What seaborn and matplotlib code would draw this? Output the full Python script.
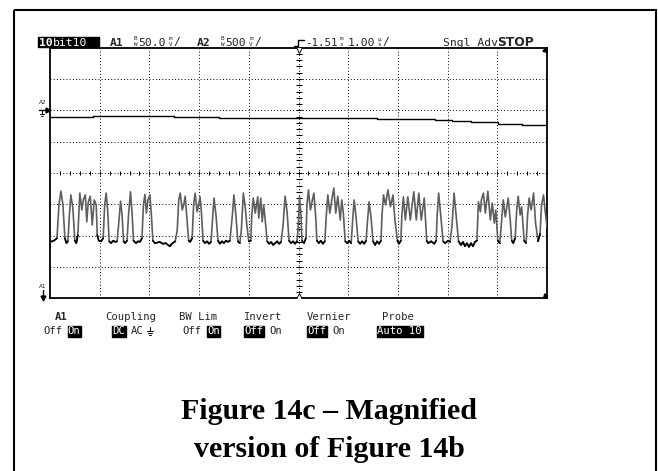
import numpy as np
import pandas as pd
import matplotlib
matplotlib.use("Agg")
import matplotlib.pyplot as plt
import seaborn as sns
from matplotlib.patches import Rectangle

# ---------------- data ----------------
# Channel A1 (50 mV/div), time in microseconds from left edge of the screen (1.00 us/div)
a1_time_us = [
    0.00, 0.08, 0.14, 0.18, 0.22, 0.26, 0.30, 0.33, 0.36, 0.39, 0.42, 0.46, 0.50, 0.53, 0.56,
    0.60, 0.64, 0.67, 0.71, 0.74, 0.77, 0.81, 0.85, 0.89, 0.93, 0.95, 0.98, 1.03, 1.07, 1.10,
    1.13, 1.16, 1.19, 1.23, 1.27, 1.31, 1.35, 1.38, 1.42, 1.45, 1.48, 1.51, 1.55, 1.58, 1.62,
    1.65, 1.68, 1.73, 1.77, 1.81, 1.85, 1.88, 1.91, 1.94, 1.97, 2.01, 2.04, 2.07, 2.11, 2.21,
    2.27, 2.33, 2.41, 2.45, 2.52, 2.56, 2.59, 2.62, 2.66, 2.69, 2.72, 2.76, 2.79, 2.82, 2.86,
    2.89, 2.92, 2.96, 2.99, 3.02, 3.05, 3.08, 3.12, 3.16, 3.20, 3.24, 3.27, 3.30, 3.34, 3.38,
    3.42, 3.46, 3.50, 3.54, 3.58, 3.62, 3.67, 3.70, 3.74, 3.78, 3.82, 3.85, 3.89, 3.93, 3.96,
    4.00, 4.04, 4.06, 4.09, 4.13, 4.18, 4.20, 4.24, 4.27, 4.30, 4.33, 4.37, 4.41, 4.45, 4.49,
    4.53, 4.57, 4.61, 4.65, 4.69, 4.73, 4.77, 4.81, 4.85, 4.89, 4.93, 4.97, 4.99, 5.02, 5.05,
    5.07, 5.11, 5.15, 5.17, 5.20, 5.24, 5.28, 5.31, 5.35, 5.37, 5.41, 5.45, 5.49, 5.53, 5.56,
    5.59, 5.63, 5.67, 5.71, 5.75, 5.79, 5.84, 5.87, 5.90, 5.94, 5.98, 6.02, 6.06, 6.09, 6.12,
    6.16, 6.20, 6.24, 6.28, 6.32, 6.36, 6.39, 6.42, 6.46, 6.50, 6.54, 6.58, 6.62, 6.66, 6.68,
    6.71, 6.75, 6.80, 6.85, 6.90, 6.94, 6.99, 7.02, 7.06, 7.08, 7.11, 7.15, 7.20, 7.25, 7.32,
    7.37, 7.42, 7.47, 7.53, 7.58, 7.61, 7.67, 7.73, 7.77, 7.79, 7.82, 7.86, 7.91, 7.95, 8.01,
    8.05, 8.09, 8.13, 8.17, 8.22, 8.27, 8.31, 8.35, 8.39, 8.43, 8.47, 8.51, 8.55, 8.59, 8.62,
    8.66, 8.68, 8.72, 8.76, 8.81, 8.86, 8.90, 8.94, 8.97, 9.01, 9.05, 9.08, 9.12, 9.16, 9.22,
    9.26, 9.29, 9.32, 9.36, 9.39, 9.42, 9.46, 9.49, 9.54, 9.58, 9.61, 9.64, 9.68, 9.73, 9.77,
    9.82, 9.86, 9.89, 9.93, 9.96, 10.00,
]
a1_mv = [
    -110, -108, -104, -51, -29, -51, -104, -112, -109, -67, -35, -56, -108, -112, -99,
    -32, -59, -43, -35, -78, -46, -37, -83, -43, -51, -99, -108, -109, -104, -51,
    -32, -59, -109, -112, -108, -110, -109, -83, -45, -67, -109, -112, -108, -67, -30,
    -62, -108, -112, -109, -110, -104, -51, -34, -64, -43, -35, -67, -108, -112, -110,
    -113, -112, -117, -113, -109, -91, -43, -32, -59, -51, -37, -78, -108, -110, -104,
    -51, -32, -62, -51, -38, -67, -108, -112, -109, -113, -110, -75, -40, -67, -108,
    -113, -109, -112, -108, -110, -108, -67, -35, -67, -109, -112, -91, -32, -56, -83,
    -109, -108, -67, -40, -64, -38, -72, -40, -78, -51, -75, -109, -113, -110, -115,
    -112, -109, -113, -110, -83, -37, -62, -108, -112, -109, -113, -109, -91, -38, -67,
    -108, -112, -104, -51, -27, -59, -43, -32, -75, -108, -112, -108, -113, -109, -67,
    -35, -64, -43, -24, -64, -37, -75, -43, -62, -109, -112, -108, -112, -75, -43,
    -72, -109, -113, -109, -113, -108, -75, -46, -72, -109, -115, -109, -113, -108, -67,
    -35, -51, -27, -54, -35, -75, -108, -113, -108, -67, -38, -75, -38, -75, -30,
    -75, -32, -75, -40, -108, -112, -109, -113, -108, -67, -32, -67, -109, -112, -108,
    -110, -83, -32, -67, -109, -115, -110, -117, -112, -118, -112, -117, -110, -108, -46,
    -62, -43, -32, -64, -29, -75, -48, -80, -59, -108, -112, -83, -43, -70, -40,
    -75, -108, -112, -104, -59, -37, -67, -54, -108, -112, -67, -40, -59, -32, -80,
    -109, -97, -51, -35, -59, -86,
]
# Channel A2 (500 mV/div), stepped slow trace
a2_time_us = [0.00, 0.86, 2.50, 3.40, 6.57, 7.75, 8.08, 8.48, 9.02, 9.49, 10.00]
a2_mv = [890, 910, 886, 874, 858, 846, 830, 810, 787, 762, 762]

menu_titles = ["A1", "Coupling", "BW Lim", "Invert", "Vernier", "Probe"]
caption_lines = ["Figure 14c \u2013 Magnified", "version of Figure 14b"]

# ---------------- style ----------------
sns.set_theme(style="white")
plt.rcParams['font.family'] = ['DejaVu Sans Mono', 'DejaVu Sans']
plt.rcParams['lines.scale_dashes'] = False

W, H = 658, 471
fig = plt.figure(figsize=(W / 100, H / 100), dpi=100)
fig.patch.set_facecolor('white')

# overlay in pixel space for annotations
ov = fig.add_axes([0, 0, 1, 1])
ov.set_xlim(0, W)
ov.set_ylim(H, 0)
ov.axis('off')
ov.set_zorder(3)
ov.patch.set_alpha(0)

# scope screen
L, R, T, B = 50, 547, 47.7, 298.3
ax = fig.add_axes([L / W, 1 - B / H, (R - L) / W, (B - T) / H])
ax.set_facecolor('white')
ax.set_xlim(0, 10)
ax.set_ylim(-200, 200)
ax.set_xticks([]); ax.set_yticks([])
for s in ax.spines.values():
    s.set_visible(True); s.set_color('black'); s.set_linewidth(1.3)
ax.set_zorder(2)

dot = (0, (0.7, 1.6))
for i in [1, 2, 3, 4, 6, 7, 8, 9]:
    ax.axvline(i, color='black', lw=0.7, ls=dot, zorder=1)
for j in [-150, -100, -50, 50, 100, 150]:
    ax.axhline(j, color='black', lw=0.7, ls=dot, zorder=1)
# center axes with sub-division ticks
ax.axhline(0, color='black', lw=0.7, ls=dot, zorder=1)
ax.axvline(5, color='black', lw=0.7, ls=dot, zorder=1)
xt = np.arange(0.2, 10, 0.2)
ax.plot(xt, np.zeros_like(xt), ls='none', marker='|', ms=3, mew=0.75, color='black', zorder=1)
yt = np.arange(-190, 200, 10)
ax.plot(np.full_like(yt, 5.0, dtype=float), yt, ls='none', marker='_', ms=4, mew=0.75, color='black', zorder=1)
ax.plot([5], [196], ls='none', marker='v', ms=5, mfc='white', mec='black', mew=0.7, zorder=4)
ax.plot([5], [-196], ls='none', marker='^', ms=5, mfc='white', mec='black', mew=0.7, zorder=4)
ax.plot([9.96], [197], ls='none', marker=(3, 0, 225), ms=4, color='black', zorder=4)
ax.plot([9.96], [-197], ls='none', marker=(3, 0, 135), ms=4, color='black', zorder=4)

# A1 trace
a1 = pd.DataFrame({'t': a1_time_us, 'mv': a1_mv})
sns.lineplot(data=a1, x='t', y='mv', ax=ax, color='#5e5e5e', lw=1.2, sort=False, zorder=3)
# black overlay on baseline portions (display persistence look)
low = np.array(a1_mv) <= -95
seg_id = np.cumsum(np.r_[True, low[1:] != low[:-1]])
rows = []
for k in np.unique(seg_id):
    idx = np.where(seg_id == k)[0]
    if not low[idx[0]] or len(idx) < 2:
        continue
    for n in idx:
        rows.append((k, a1_time_us[n], a1_mv[n]))
blk = pd.DataFrame(rows, columns=['seg', 't', 'mv'])
sns.lineplot(data=blk, x='t', y='mv', units='seg', estimator=None, ax=ax, color='black',
             lw=1.2, sort=False, zorder=3)
ax.set_xlabel(''); ax.set_ylabel('')

# A2 trace on its own scale
ax2 = ax.twinx()
ax2.set_ylim(-2000, 2000)
ax2.set_yticks([])
for s in ax2.spines.values():
    s.set_visible(False)
a2 = pd.DataFrame({'t': a2_time_us, 'mv': a2_mv})
sns.lineplot(data=a2, x='t', y='mv', ax=ax2, color='black', lw=1.0, drawstyle='steps-post')
ax2.set_ylabel(''); ax2.set_xlabel('')

# ---------------- annotations (pixel space) ----------------
mono = 'DejaVu Sans Mono'
fs = 8.2
# outer frame
ov.add_patch(Rectangle((13.5, 9.5), 642, 470, fill=False, ec='black', lw=1.5))

# header
ov.add_patch(Rectangle((38, 36.5), 60.5, 10.5, color='black'))
ov.text(39.5, 45.5, '10', color='white', fontsize=fs, family=mono, weight='bold', va='baseline')
ov.text(53, 45.5, 'bit10', color='white', fontsize=fs, family=mono, va='baseline')


def stacked(x, top, bot, size=4.3):
    ov.text(x, 40.5, top, fontsize=size, family=mono, va='baseline', ha='center')
    ov.text(x, 46.0, bot, fontsize=size, family=mono, va='baseline', ha='center')


ov.text(110, 45.5, 'A1', fontsize=fs, family=mono, weight='bold', va='baseline')
stacked(135.5, 'B', 'W')
ov.text(138.5, 45.5, '50.0', fontsize=fs, family=mono, va='baseline')
stacked(170.5, 'm', 'V')
ov.text(173.5, 45.5, '/', fontsize=fs, family=mono, va='baseline')
ov.text(197, 45.5, 'A2', fontsize=fs, family=mono, weight='bold', va='baseline')
stacked(222.5, 'B', 'W')
ov.text(225.5, 45.5, '500', fontsize=fs, family=mono, va='baseline')
stacked(251, 'm', 'V')
ov.text(254.5, 45.5, '/', fontsize=fs, family=mono, va='baseline')
ov.plot([294, 297.5, 297.5, 304], [46, 46, 39.5, 39.5], color='black', lw=1.0)
ov.text(305, 45.5, '-1.51', fontsize=7.8, family=mono, va='baseline')
stacked(341.5, 'm', 's')
ov.text(348, 45.5, '1.00', fontsize=fs, family=mono, va='baseline')
stacked(379.5, '\u00b5', 's')
ov.text(382.5, 45.5, '/', fontsize=fs, family=mono, va='baseline')
ov.text(443, 45.5, 'Sngl Adv', fontsize=fs, family=mono, va='baseline')
ov.text(497, 45.5, 'STOP', fontsize=8.8, family='DejaVu Sans', weight='bold', va='baseline')

# channel markers
ov.text(43, 104, 'A2', fontsize=4.5, family=mono, ha='center', va='baseline')
ov.plot([39, 46], [110, 110], color='black', lw=1.0)
ov.plot([47.5], [110], marker='>', ms=3.5, color='black')
ov.plot([42, 42], [110, 114], color='black', lw=0.7)
ov.plot([40, 44], [114, 114], color='black', lw=0.7)
ov.plot([40.8, 43.2], [115.5, 115.5], color='black', lw=0.6)
ov.text(43, 288.5, 'A1', fontsize=4.5, family=mono, ha='center', va='baseline')
ov.plot([42.5, 42.5], [290, 297], color='black', lw=1.0)
ov.plot([42.5], [297.5], marker='v', ms=3.5, color='black')

# soft-key menu
ms = 7.6
title_x = [61, 131, 198, 263, 329, 398]
for tx, title in zip(title_x, menu_titles):
    ov.text(tx, 320.5, title, fontsize=ms, family=mono, ha='center', va='baseline',
            weight='bold' if title == 'A1' else 'normal')


def inv(x0, x1, label):
    ov.add_patch(Rectangle((x0, 326.3), x1 - x0, 10.2, color='black'))
    ov.text((x0 + x1) / 2, 334.5, label, fontsize=ms, family=mono, color='white',
            ha='center', va='baseline')


def plain(x0, label):
    ov.text(x0, 334.5, label, fontsize=ms, family=mono, ha='left', va='baseline')


plain(43, 'Off'); inv(67.5, 81, 'On')
inv(112, 125.5, 'DC'); plain(131, 'AC')
ov.plot([150, 150], [326.5, 331], color='black', lw=0.7)
ov.plot([147, 153], [331, 331], color='black', lw=0.7)
ov.plot([148, 152], [332.8, 332.8], color='black', lw=0.7)
ov.plot([149, 151], [334.5, 334.5], color='black', lw=0.7)
plain(182, 'Off'); inv(206.5, 220, 'On')
inv(244, 263.5, 'Off'); plain(269, 'On')
inv(307, 327, 'Off'); plain(332, 'On')
inv(377, 422.5, 'Auto 10')

# caption
cap_font = ['Liberation Serif', 'DejaVu Serif']
ov.text(329, 419, caption_lines[0], fontsize=21.5, family=cap_font, weight='bold',
        ha='center', va='baseline', color='black')
ov.text(329, 457, caption_lines[1], fontsize=21.5, family=cap_font, weight='bold',
        ha='center', va='baseline', color='black')

fig.savefig('out.png', dpi=100, facecolor='white')
